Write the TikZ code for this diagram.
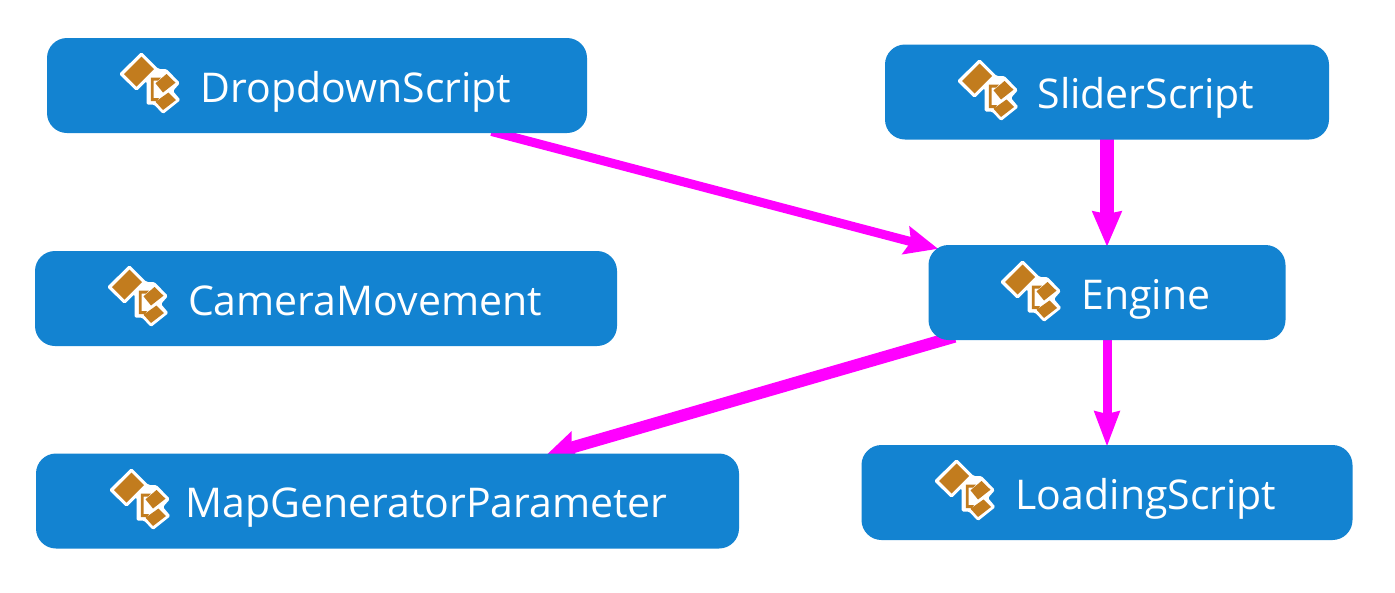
\documentclass[tikz,border=0pt]{standalone}
\usepackage{fontspec}
\setmainfont{Open Sans}
\usetikzlibrary{arrows.meta,backgrounds}
\definecolor{boxblue}{HTML}{1383D1}
\definecolor{iconorange}{HTML}{C27C1E}
\definecolor{linkmagenta}{HTML}{FF00FF}
\tikzset{
  x=1pt,y=-1pt,
  classbox/.style={draw=none,fill=boxblue,rounded corners=20pt,text=white,inner sep=0pt,outer sep=0pt,
    minimum height=95pt,text height=37.5pt,text depth=4.5pt,align=center,
    font=\fontsize{41}{46}\selectfont},
  link/.style={draw=linkmagenta,line cap=butt},
  classicon/.pic={
    \fill[white,rounded corners=1.5pt] (19.5,-2) -- (36.5,15) -- (44.5,15) -- (58,29) -- (51,37) -- (58.5,46) -- (41,60) -- (32,50.5) -- (24.5,50.5) -- (24.5,27) -- (14.5,37) -- (-3,20) -- cycle;
    \fill[iconorange] (19.5,2.5) -- (32,15) -- (14.5,32.5) -- (2,20) -- cycle;
    \fill[iconorange] (44.5,20) -- (53.5,28.7) -- (41,38.5) -- (33.5,29.3) -- cycle;
    \fill[iconorange] (46.5,38.5) -- (54,46) -- (41,56) -- (33.5,47.7) -- cycle;
    \fill[iconorange] (28.8,23.5) -- (39,23.5) -- (36,26.5) -- (31.5,26.5) -- (31.5,44) -- (37,44) -- (35,47) -- (28.8,47) -- cycle;
  }
}
\newcommand{\cname}[1]{\hspace*{78pt}#1}
\begin{document}
\begin{tikzpicture}
\useasboundingbox (0,0) rectangle (1395,592);
\node[classbox,minimum width=540pt] (dropdown) at (317,85.5) {\cname{DropdownScript}};
\node[classbox,minimum width=444pt] (slider) at (1107,92) {\cname{SliderScript}};
\node[classbox,minimum width=582pt] (camera) at (326,298.5) {\cname{CameraMovement}};
\node[classbox,minimum width=357pt] (engine) at (1107,292.5) {\cname{Engine}};
\node[classbox,minimum width=703pt] (mapgen) at (387.5,501) {\cname{MapGeneratorParameter}};
\node[classbox,minimum width=491pt] (loading) at (1107,492.5) {\cname{LoadingScript}};
\pic at (122,54) {classicon};
\pic at (960,61) {classicon};
\pic at (110,267) {classicon};
\pic at (1003,262) {classicon};
\pic at (112,470) {classicon};
\pic at (937,461) {classicon};
\begin{scope}[on background layer]
\fill[white] (0,0) rectangle (1395,592);
\draw[link,line width=9pt,shorten <=-6pt,shorten >=-10pt,-{Stealth[length=33pt,width=28pt,inset=5pt]}] (dropdown) -- (engine);
\draw[link,line width=14pt,shorten <=-2pt,shorten >=-2pt,-{Stealth[length=35pt,width=28pt,inset=2pt]}] (slider) -- (engine);
\draw[link,line width=12pt,shorten <=-12pt,shorten >=-5pt,-{Stealth[length=30pt,width=30pt,inset=4pt]}] (engine) -- (mapgen);
\draw[link,line width=9pt,shorten <=-2pt,shorten >=-2pt,-{Stealth[length=35pt,width=24pt,inset=2pt]}] (engine) -- (loading);
\end{scope}
\end{tikzpicture}
\end{document}
